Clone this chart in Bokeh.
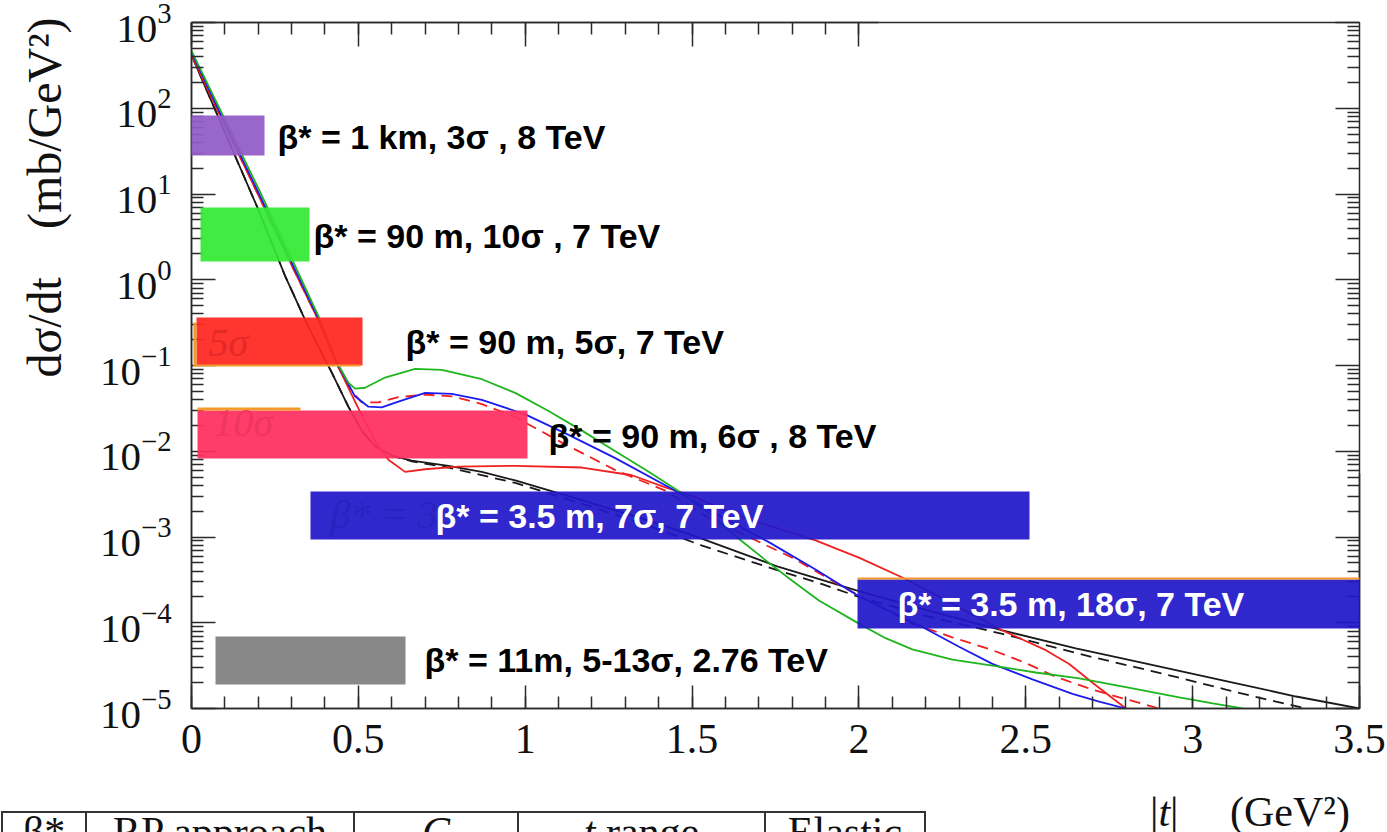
import math
from bokeh.plotting import figure
from bokeh.models import (Range1d, FixedTicker, SingleIntervalTicker, LinearAxis, LogAxis,
                          BoxAnnotation, Label, CustomJSTickFormatter, Div)
from bokeh.layouts import column
from bokeh.embed import file_html
from bokeh.resources import INLINE

# ---------------- data ----------------
green_t = [0.00, 0.10, 0.20, 0.30, 0.38, 0.43, 0.47, 0.49, 0.52, 0.58, 0.67, 0.75, 0.87, 0.97, 1.07,
           1.17, 1.27, 1.37, 1.45, 1.55, 1.64, 1.72, 1.79, 1.88, 2.00, 2.08, 2.16, 2.28, 2.40, 2.53,
           2.66, 2.80, 2.96, 3.06, 3.15]
green_y = [468, 74.1, 11.7, 1.78, 0.380, 0.120, 0.0631, 0.0537, 0.0550, 0.0724, 0.0912, 0.0891, 0.0692,
           0.0479, 0.0295, 0.0174, 0.0100, 0.00575, 0.00363, 0.00191, 9.55e-4, 5.37e-4, 3.31e-4,
           1.82e-4, 9.77e-5, 6.61e-5, 4.90e-5, 3.72e-5, 3.16e-5, 2.63e-5, 2.24e-5, 1.78e-5, 1.35e-5,
           1.15e-5, 1.0e-5]

blue_t = [0.00, 0.10, 0.20, 0.30, 0.38, 0.44, 0.49, 0.53, 0.57, 0.62, 0.70, 0.78, 0.87, 1.00, 1.13,
          1.27, 1.45, 1.60, 1.73, 1.87, 2.00, 2.10, 2.19, 2.30, 2.40, 2.52, 2.64, 2.72, 2.80]
blue_y = [447, 67.6, 10.5, 1.58, 0.355, 0.100, 0.0437, 0.0331, 0.0324, 0.0380, 0.0479, 0.0468, 0.0398,
          0.0269, 0.0155, 0.00832, 0.00347, 0.00162, 8.71e-4, 4.17e-4, 2.04e-4, 1.32e-4, 8.91e-5,
          5.25e-5, 3.31e-5, 2.19e-5, 1.48e-5, 1.20e-5, 1.0e-5]

red_dash_t = [0.00, 0.10, 0.20, 0.30, 0.38, 0.44, 0.48, 0.51, 0.56, 0.62, 0.70, 0.78, 0.87, 0.97, 1.11,
              1.27, 1.42, 1.55, 1.67, 1.80, 1.97, 2.16, 2.28, 2.40, 2.50, 2.59, 2.70, 2.78, 2.90]
red_dash_y = [417, 63.1, 9.77, 1.48, 0.339, 0.0955, 0.0501, 0.0372, 0.0372, 0.0427, 0.0457, 0.0437,
              0.0355, 0.0251, 0.0126, 0.00603, 0.00347, 0.00166, 1.0e-3, 5.75e-4, 2.40e-4, 9.77e-5,
              6.76e-5, 4.79e-5, 3.39e-5, 2.34e-5, 1.66e-5, 1.35e-5, 1.0e-5]

red_t = [0.00, 0.10, 0.20, 0.30, 0.38, 0.44, 0.50, 0.55, 0.59, 0.64, 0.70, 0.80, 0.97, 1.17, 1.32,
         1.42, 1.50, 1.65, 1.87, 2.00, 2.14, 2.30, 2.43, 2.56, 2.63, 2.70, 2.80]
red_y = [417, 63.1, 9.77, 1.48, 0.339, 0.0955, 0.0316, 0.0132, 0.00794, 0.00575, 0.00617, 0.00661,
         0.00676, 0.00646, 0.00525, 0.00380, 0.00302, 0.00170, 9.12e-4, 5.75e-4, 3.24e-4, 1.51e-4,
         8.13e-5, 4.79e-5, 3.31e-5, 2.0e-5, 1.0e-5]

black_t = [0.00, 0.10, 0.20, 0.28, 0.35, 0.42, 0.47, 0.51, 0.55, 0.60, 0.66, 0.77, 0.87, 0.97, 1.17,
           1.37, 1.50, 1.76, 1.99, 2.20, 2.43, 2.65, 2.83, 3.10, 3.31, 3.50]
black_y = [417, 52.5, 6.61, 1.12, 0.282, 0.0832, 0.0331, 0.0174, 0.0115, 0.00891, 0.00776, 0.00676,
           0.00575, 0.00457, 0.00269, 0.00155, 0.00105, 4.47e-4, 2.40e-4, 1.41e-4, 8.13e-5, 5.01e-5,
           3.55e-5, 2.09e-5, 1.38e-5, 1.0e-5]

black_dash_t = [0.00, 0.10, 0.20, 0.28, 0.35, 0.42, 0.47, 0.51, 0.55, 0.60, 0.66, 0.77, 0.97, 1.17,
                1.37, 1.53, 1.75, 1.89, 2.00, 2.20, 2.43, 2.70, 2.96, 3.10, 3.25, 3.34]
black_dash_y = [417, 52.5, 6.61, 1.12, 0.282, 0.0832, 0.0331, 0.0174, 0.0115, 0.00891, 0.00762,
                0.00646, 0.00427, 0.00245, 0.00135, 7.94e-4, 4.17e-4, 2.82e-4, 2.0e-4, 1.20e-4,
                7.41e-5, 3.98e-5, 2.29e-5, 1.66e-5, 1.20e-5, 1.0e-5]

x_tick_values = [0, 0.5, 1, 1.5, 2, 2.5, 3, 3.5]
x_tick_labels = ["0", "0.5", "1", "1.5", "2", "2.5", "3", "3.5"]
y_decades = [-5, -4, -3, -2, -1, 0, 1, 2, 3]

box_labels = ["β* = 1 km, 3σ , 8 TeV",
              "β* = 90 m, 10σ , 7 TeV",
              "β* = 90 m, 5σ, 7 TeV",
              "β* = 90 m, 6σ , 8 TeV",
              "β* = 3.5 m, 7σ, 7 TeV",
              "β* = 3.5 m, 18σ, 7 TeV",
              "β* = 11m,  5-13σ, 2.76 TeV"]

table_headers = ["β*", "RP approach", "<i>C</i>", "<i>t</i> range", "Elastic"]

# ---------------- layout (pixels of the picture) ----------------
W, H = 1387, 832
PH = 795                      # figure height; the strip below holds the table fragment
FX0, FX1, FY0, FY1 = 191, 1359, 22, 708
X_MIN, X_MAX = 0.0, 3.5
LOG_MIN, LOG_MAX = -5, 3


def dx(px):
    return X_MIN + (px - FX0) / (FX1 - FX0) * (X_MAX - X_MIN)


def dy(py):
    return 10 ** (LOG_MAX - (py - FY0) / (FY1 - FY0) * (LOG_MAX - LOG_MIN))


p = figure(width=W, height=PH, x_range=Range1d(X_MIN, X_MAX),
           y_range=Range1d(10 ** LOG_MIN, 10 ** LOG_MAX), y_axis_type="log",
           output_backend="svg", toolbar_location=None,
           min_border_left=FX0, min_border_right=W - FX1,
           min_border_top=FY0, min_border_bottom=PH - FY1)
p.xgrid.visible = False
p.ygrid.visible = False
p.background_fill_color = "white"
p.border_fill_color = "white"
p.outline_line_color = "#2a2a2a"
p.outline_line_width = 1.5

AX = "#2a2a2a"
SERIF = "Liberation Serif"

major_y = [10.0 ** d for d in y_decades]
minor_y = [m * 10.0 ** d for d in y_decades[:-1] for m in range(2, 10)]

# bottom x axis
xa = p.xaxis[0]
xa.ticker = SingleIntervalTicker(interval=0.5, num_minor_ticks=5)
xa.major_label_overrides = {float(v): s for v, s in zip(x_tick_values, x_tick_labels)}
xa.major_label_text_font = SERIF
xa.major_label_text_font_size = "42px"
xa.major_label_text_color = "#111111"
xa.major_label_standoff = 16
xa.major_tick_in, xa.major_tick_out = 23, 0
xa.minor_tick_in, xa.minor_tick_out = 12, 0

# left y axis
ya = p.yaxis[0]
ya.ticker = FixedTicker(ticks=major_y, minor_ticks=minor_y)
ya.major_label_text_font = SERIF
ya.major_label_text_font_size = "41px"
ya.major_label_text_color = "#111111"
ya.major_label_standoff = 20
ya.major_tick_in, ya.major_tick_out = 24, 0
ya.minor_tick_in, ya.minor_tick_out = 12, 0
ya.axis_label_text_font = SERIF
ya.axis_label_text_font_size = "48px"
ya.axis_label_text_font_style = "normal"
ya.axis_label_text_color = "#111111"
ya.axis_label_standoff = 26
# the title sits in the upper part of the axis: leading no-break spaces push it up
ya.axis_label = "\u00a0" * 28 + "dσ/dt" + "\u00a0" * 4 + "(mb/GeV²)"

for ax in (xa, ya):
    ax.axis_line_color = AX
    ax.axis_line_width = 1.5
    ax.major_tick_line_color = AX
    ax.minor_tick_line_color = AX
    ax.major_tick_line_width = 1.5
    ax.minor_tick_line_width = 1.5

# top axis (ticks only on the left part)
top = LinearAxis(ticker=SingleIntervalTicker(interval=0.5, num_minor_ticks=5),
                 formatter=CustomJSTickFormatter(code="return ''"), major_label_standoff=0,
                 bounds=(0, 2.06),
                 major_tick_in=24, major_tick_out=0, minor_tick_in=12, minor_tick_out=0,
                 axis_line_color=AX, axis_line_width=1.5, major_tick_line_color=AX,
                 minor_tick_line_color=AX, major_tick_line_width=1.5, minor_tick_line_width=1.5)
p.add_layout(top, "above")

# right axis (ticks only on the lower part)
right = LogAxis(ticker=FixedTicker(ticks=major_y, minor_ticks=minor_y),
                formatter=CustomJSTickFormatter(code="return ''"), major_label_standoff=0,
                bounds=(1e-5, 5.5e-3),
                major_tick_in=24, major_tick_out=0, minor_tick_in=12, minor_tick_out=0,
                axis_line_color=AX, axis_line_width=1.5, major_tick_line_color=AX,
                minor_tick_line_color=AX, major_tick_line_width=1.5, minor_tick_line_width=1.5)
p.add_layout(right, "right")

# ---------------- curves ----------------
p.line(black_t, black_y, line_color="#1a1a1a", line_width=1.8)
p.line(black_dash_t, black_dash_y, line_color="#1a1a1a", line_width=1.8, line_dash="11 7")
p.line(red_t, red_y, line_color="#f02020", line_width=1.8)
p.line(red_dash_t, red_dash_y, line_color="#f02020", line_width=1.8, line_dash="11 7")
p.line(blue_t, blue_y, line_color="#1c1cf0", line_width=1.8)
p.line(green_t, green_y, line_color="#1fb51f", line_width=1.8)

# ---------------- coloured boxes ----------------
boxes = [  # (left, right, top, bottom) in picture pixels, colour
    ((186, 264, 115, 155), "#915ac8"),
    ((200, 309, 207, 261), "#34e934"),
    ((196, 362, 317, 365), "#ff2620"),
    ((197, 527, 410, 458), "#ff2e5f"),
    ((310, 1029, 491, 539), "#2018c8"),
    ((857, 1364, 579, 628), "#2018c8"),
    ((215, 405, 636, 684), "#7f7f7f"),
]
for (l, r, t, b), c in boxes:
    p.add_layout(BoxAnnotation(left=dx(l), right=dx(r), top=dy(t), bottom=dy(b),
                               fill_color=c, fill_alpha=0.93, line_color=None))

# thin orange edges left over from the slide
edges = [(193, 196, 322, 366), (193, 360, 364, 366), (197, 300, 407, 410), (857, 1364, 577, 579)]
for l, r, t, b in edges:
    p.add_layout(BoxAnnotation(left=dx(l), right=dx(r), top=dy(t), bottom=dy(b),
                               fill_color="#f59a2a", fill_alpha=1.0, line_color=None))

# faint texts showing through the boxes (centre y)
ghosts = [("5σ", 208, 342, "#e42a28"), ("10σ", 213, 422, "#f0355e"), ("β* = 3", 330, 514, "#2a22c0")]
for txt, x0, yc, col in ghosts:
    p.add_layout(Label(x=dx(x0), y=dy(yc), text=txt, text_font=SERIF, text_font_style="italic",
                       text_font_size="40px", text_color=col, text_baseline="middle"))

# box labels (left x, centre y)
label_pos = [(277, 136, "black"), (313, 235, "black"), (405, 341, "black"), (548, 435, "black"),
             (435, 515, "white"), (897, 603, "white"), (424, 659, "black")]
for txt, (x0, yc, col) in zip(box_labels, label_pos):
    p.add_layout(Label(x=dx(x0), y=dy(yc), text=txt, text_font="Liberation Sans",
                       text_font_style="bold", text_font_size="34px", text_color=col,
                       text_baseline="middle", text_align="left"))

# ---------------- strip below the figure: x title and table fragment ----------------
SH = H - PH
col_edges = [2, 86, 354, 518, 765, 925]
parts = ['<div style="position:relative;width:%dpx;height:%dpx;overflow:hidden;'
         'font-family:\'Liberation Serif\',serif;color:#111;background:white;">' % (W, SH)]
parts.append('<div style="position:absolute;left:%dpx;top:16px;width:%dpx;height:2px;'
             'background:#333;"></div>' % (col_edges[0] - 1, col_edges[-1] - col_edges[0] + 2))
for xv in col_edges:
    parts.append('<div style="position:absolute;left:%dpx;top:16px;width:2px;height:40px;'
                 'background:#333;"></div>' % (xv - 1))
for txt, a, b in zip(table_headers, col_edges[:-1], col_edges[1:]):
    parts.append('<span style="position:absolute;left:%dpx;width:%dpx;top:16px;font-size:42px;'
                 'line-height:42px;text-align:center;white-space:nowrap;">%s</span>' % (a, b - a, txt))
parts.append('<span style="position:absolute;left:1150px;top:-4px;font-size:42px;line-height:42px;'
             'white-space:nowrap;">|<i>t</i>|</span>')
parts.append('<span style="position:absolute;left:1230px;top:-4px;font-size:42px;line-height:42px;'
             'white-space:nowrap;">(GeV²)</span>')
parts.append('</div>')
strip = Div(text="".join(parts), width=W, height=SH, margin=(0, 0, 0, 0))

layout = column(p, strip, spacing=0)
open("out.html", "w").write(file_html(layout, INLINE))
